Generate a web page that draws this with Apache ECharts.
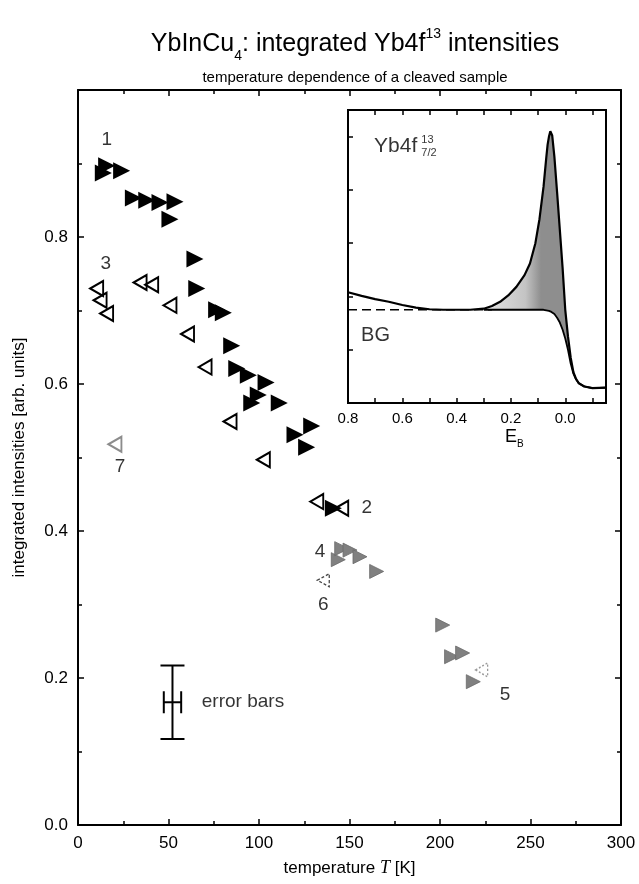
<!DOCTYPE html>
<html>
<head>
<meta charset="utf-8">
<title>YbInCu4 integrated Yb4f13 intensities</title>
<script src="https://cdn.jsdelivr.net/npm/echarts@6/dist/echarts.min.js"></script>
<style>
  html, body { margin: 0; padding: 0; background: #fff; }
  #chart { width: 639px; height: 884px; }
</style>
</head>
<body>
<div id="chart"></div>
<script>
// main plot: temperature [K] vs integrated intensity
const run1T = [14.0, 15.8, 24.1, 30.6, 38.0, 45.3, 53.6, 50.8, 64.6, 65.6, 76.6, 80.3, 84.9, 87.7, 94.1, 103.9, 99.6, 96.0, 111.2, 119.9, 129.1, 126.3, 141.1]
const run1V = [0.887, 0.897, 0.890, 0.853, 0.850, 0.847, 0.848, 0.824, 0.770, 0.730, 0.701, 0.697, 0.652, 0.621, 0.612, 0.602, 0.585, 0.574, 0.574, 0.531, 0.543, 0.514, 0.431]
const run3T = [10.3, 12.2, 15.8, 34.3, 40.7, 50.8, 60.5, 70.2, 84.0, 102.4, 131.9, 145.7]
const run3V = [0.730, 0.714, 0.696, 0.738, 0.735, 0.707, 0.668, 0.623, 0.549, 0.497, 0.440, 0.431]
const run4T = [143.8, 145.7, 150.3, 155.8, 165.0, 201.5, 206.4, 212.5, 218.4]
const run4V = [0.361, 0.376, 0.374, 0.365, 0.345, 0.272, 0.229, 0.234, 0.195]
const run5T = [223.0]
const run5V = [0.211]
const run6T = [135.5]
const run6V = [0.333]
const run7T = [20.4]
const run7V = [0.518]

const noteText = ['1', '2', '3', '4', '5', '6', '7']
const noteT = [15.9, 159.5, 15.3, 133.7, 235.9, 135.5, 23.2]
const noteV = [0.932, 0.431, 0.763, 0.372, 0.177, 0.299, 0.487]

// typical error bar (T, value, dT, dValue)
const errBar = [52.2, 0.167, 4.8, 0.05]

// inset: Yb4f 7/2 spectrum vs binding energy E_B
const specE = [0.8, 0.75, 0.7, 0.65, 0.6, 0.55, 0.5, 0.45, 0.4, 0.35, 0.3, 0.27, 0.24, 0.21, 0.18, 0.15, 0.13, 0.11, 0.095, 0.08, 0.07, 0.065, 0.06, 0.055, 0.051, 0.048, 0.04, 0.03, 0.02, 0.01, 0.0, -0.01, -0.02, -0.03, -0.04, -0.05, -0.07, -0.1, -0.15]
const specI = [2.08, 2.01, 1.95, 1.90, 1.84, 1.79, 1.76, 1.75, 1.75, 1.75, 1.77, 1.82, 1.90, 2.02, 2.18, 2.40, 2.62, 3.00, 3.45, 4.06, 4.60, 4.85, 5.00, 5.10, 5.08, 5.02, 4.62, 3.95, 3.25, 2.55, 1.75, 1.25, 0.85, 0.58, 0.45, 0.37, 0.31, 0.28, 0.29]
const bgI = [1.75, 1.75, 1.75, 1.75, 1.75, 1.75, 1.75, 1.75, 1.75, 1.75, 1.75, 1.75, 1.75, 1.75, 1.75, 1.75, 1.75, 1.75, 1.75, 1.75, 1.74, 1.74, 1.73, 1.72, 1.71, 1.70, 1.67, 1.60, 1.51, 1.38, 1.21, 1.00, 0.74, 0.55, 0.44, 0.37, 0.31, 0.28, 0.29]

const FONT = 'Liberation Sans, Arial, Helvetica, sans-serif'

function pairs (xs, ys) {
  return xs.map((x, i) => [x, ys[i]])
}

// inset x axis runs as -E so that 0.8 sits on the left
const bgDashed = []
const bgSolid = []
specE.forEach((e, i) => {
  bgDashed.push(e >= 0.27 ? [-e, bgI[i]] : [-e, null])
  bgSolid.push(e <= 0.3 ? [-e, bgI[i]] : [-e, null])
})

const chart = echarts.init(document.getElementById('chart'))

const tickAxis = {
  axisLine: { show: true, onZero: false, lineStyle: { color: '#000', width: 2 } },
  axisTick: { show: true, inside: true, length: 6, lineStyle: { color: '#000', width: 1.5 } },
  minorTick: { show: true, splitNumber: 2, length: 4, lineStyle: { color: '#000', width: 1.5 } },
  splitLine: { show: false },
  minorSplitLine: { show: false }
}

function noLabels (o) {
  return Object.assign({}, tickAxis, { axisLabel: { show: false } }, o)
}

const insetTick = { show: true, inside: true, length: 5, lineStyle: { color: '#000', width: 1.5 } }

const option = {
  backgroundColor: '#fff',
  animation: false,
  title: [
    {
      text: '{a|YbInCu}{sub|4}{a|: integrated Yb4f}{sup|13}{a| intensities}',
      left: 350,
      top: 20,
      textAlign: 'center',
      textStyle: {
        rich: {
          a: { fontFamily: FONT, fontSize: 25, fontWeight: 'normal', color: '#000', lineHeight: 32, verticalAlign: 'bottom' },
          sub: { fontFamily: FONT, fontSize: 14, fontWeight: 'normal', color: '#000', lineHeight: 32, verticalAlign: 'bottom', padding: [0, 0, -6, 0] },
          sup: { fontFamily: FONT, fontSize: 14, fontWeight: 'normal', color: '#000', lineHeight: 32, verticalAlign: 'top', padding: [2, 0, 0, 0] }
        }
      }
    },
    {
      text: 'temperature dependence of a cleaved sample',
      left: 350,
      top: 65,
      textAlign: 'center',
      textStyle: { fontFamily: FONT, fontSize: 15, fontWeight: 'normal', color: '#000' }
    }
  ],
  grid: [
    { left: 78, top: 90, width: 543, height: 735, show: false },
    { left: 348, top: 110, width: 258, height: 293, show: true, backgroundColor: '#fff', borderColor: '#000', borderWidth: 2 }
  ],
  xAxis: [
    Object.assign({}, tickAxis, {
      type: 'value', gridIndex: 0, position: 'bottom', min: 0, max: 300, interval: 50,
      axisLabel: { color: '#000', fontFamily: FONT, fontSize: 17, margin: 10 },
      name: '{a|temperature }{i|T}{a| [K]}',
      nameLocation: 'middle',
      nameGap: 34,
      nameTextStyle: {
        rich: {
          a: { fontFamily: FONT, fontSize: 17, color: '#000' },
          i: { fontFamily: 'Liberation Serif, Times New Roman, serif', fontStyle: 'italic', fontSize: 18, color: '#000' }
        }
      }
    }),
    noLabels({ type: 'value', gridIndex: 0, position: 'top', min: 0, max: 300, interval: 50 }),
    Object.assign({}, tickAxis, {
      type: 'value', gridIndex: 1, position: 'bottom', min: -0.8, max: 0.15, interval: 0.1,
      minorTick: { show: false },
      axisTick: insetTick,
      axisLabel: {
        color: '#000', fontFamily: FONT, fontSize: 15, margin: 8, showMaxLabel: false,
        formatter: v => (Math.round(v * 10) % 2 === 0 ? (-v).toFixed(1) : '')
      }
    }),
    noLabels({
      type: 'value', gridIndex: 1, position: 'top', min: -0.8, max: 0.15, interval: 0.1,
      minorTick: { show: false },
      axisTick: insetTick
    })
  ],
  yAxis: [
    Object.assign({}, tickAxis, {
      type: 'value', gridIndex: 0, position: 'left', min: 0, max: 1, interval: 0.2,
      axisLabel: { color: '#000', fontFamily: FONT, fontSize: 17, margin: 10, showMaxLabel: false, formatter: v => v.toFixed(1) },
      name: 'integrated intensities [arb. units]',
      nameLocation: 'middle',
      nameGap: 50,
      nameTextStyle: { fontFamily: FONT, fontSize: 17, color: '#000' }
    }),
    noLabels({ type: 'value', gridIndex: 0, position: 'right', min: 0, max: 1, interval: 0.2 }),
    noLabels({
      type: 'value', gridIndex: 1, position: 'left', min: 0, max: 5.5, interval: 1,
      minorTick: { show: false },
      axisTick: insetTick
    })
  ],
  graphic: [
    {
      type: 'text',
      left: 505,
      top: 428,
      style: {
        text: '{e|E}{s|B}',
        rich: {
          e: { fontFamily: FONT, fontSize: 18, color: '#000', lineHeight: 22, verticalAlign: 'bottom' },
          s: { fontFamily: FONT, fontSize: 10, color: '#000', lineHeight: 22, verticalAlign: 'bottom', padding: [0, 0, -3, 0] }
        }
      }
    }
  ],
  series: [
    // inset: shaded 4f weight between spectrum and background
    {
      type: 'custom', xAxisIndex: 2, yAxisIndex: 2, data: [[0]], silent: true, z: 1,
      renderItem: function (params, api) {
        const idx = specE.map((e, i) => i).filter(i => specE[i] <= 0.3 && specE[i] >= -0.04)
        const pts = idx.map(i => api.coord([-specE[i], specI[i]]))
        idx.slice().reverse().forEach(i => pts.push(api.coord([-specE[i], bgI[i]])))
        return {
          type: 'polygon',
          shape: { points: pts },
          style: {
            fill: new echarts.graphic.LinearGradient(0, 0, 1, 0, [
              { offset: 0, color: '#e4e4e4' },
              { offset: 0.45, color: '#c4c4c4' },
              { offset: 0.62, color: '#8e8e8e' },
              { offset: 1, color: '#8e8e8e' }
            ])
          }
        }
      }
    },
    {
      type: 'line', xAxisIndex: 2, yAxisIndex: 2, data: pairs(specE.map(e => -e), specI),
      showSymbol: false, lineStyle: { color: '#000', width: 2.2 }, z: 3
    },
    {
      type: 'line', xAxisIndex: 2, yAxisIndex: 2, data: bgDashed,
      showSymbol: false, lineStyle: { color: '#000', width: 1.6, type: [9, 5] }, z: 3
    },
    {
      type: 'line', xAxisIndex: 2, yAxisIndex: 2, data: bgSolid,
      showSymbol: false, lineStyle: { color: '#000', width: 1.8 }, z: 3
    },
    {
      type: 'scatter', xAxisIndex: 2, yAxisIndex: 2, symbolSize: 0, silent: true, z: 4,
      data: [
        { value: [-0.704, 4.82], label: { formatter: 'Yb4f', fontSize: 21 } },
        { value: [-0.53, 4.93], label: { formatter: '13', fontSize: 11 } },
        { value: [-0.53, 4.70], label: { formatter: '7/2', fontSize: 11 } },
        { value: [-0.752, 1.27], label: { formatter: 'BG', fontSize: 20 } }
      ],
      label: { show: true, position: 'inside', align: 'left', verticalAlign: 'middle', color: '#000', fontFamily: FONT }
    },
    // main plot runs
    {
      type: 'scatter', xAxisIndex: 0, yAxisIndex: 0, data: pairs(run3T, run3V),
      symbol: 'triangle', symbolRotate: 90, symbolSize: [15, 13],
      itemStyle: { opacity: 1, color: 'rgba(0,0,0,0)', borderColor: '#000', borderWidth: 2 }
    },
    {
      type: 'scatter', xAxisIndex: 0, yAxisIndex: 0, data: pairs(run1T, run1V),
      symbol: 'triangle', symbolRotate: -90, symbolSize: 17,
      itemStyle: { opacity: 1, color: '#000' }
    },
    {
      type: 'scatter', xAxisIndex: 0, yAxisIndex: 0, data: pairs(run4T, run4V),
      symbol: 'triangle', symbolRotate: -90, symbolSize: 14,
      itemStyle: { opacity: 1, color: '#808080', borderColor: '#6a6a6a', borderWidth: 0.8 }
    },
    {
      type: 'scatter', xAxisIndex: 0, yAxisIndex: 0, data: pairs(run5T, run5V),
      symbol: 'triangle', symbolRotate: 90, symbolSize: [14, 12],
      itemStyle: { opacity: 1, color: 'rgba(0,0,0,0)', borderColor: '#9a9a9a', borderWidth: 1.4, borderType: [2, 2] }
    },
    {
      type: 'scatter', xAxisIndex: 0, yAxisIndex: 0, data: pairs(run6T, run6V),
      symbol: 'triangle', symbolRotate: 90, symbolSize: [13, 12],
      itemStyle: { opacity: 1, color: 'rgba(0,0,0,0)', borderColor: '#444', borderWidth: 1.3, borderType: [3, 2] }
    },
    {
      type: 'scatter', xAxisIndex: 0, yAxisIndex: 0, data: pairs(run7T, run7V),
      symbol: 'triangle', symbolRotate: 90, symbolSize: [15, 13],
      itemStyle: { opacity: 1, color: 'rgba(0,0,0,0)', borderColor: '#8c8c8c', borderWidth: 2 }
    },
    {
      type: 'scatter', xAxisIndex: 0, yAxisIndex: 0, symbolSize: 0, silent: true,
      data: noteText.map((t, i) => [noteT[i], noteV[i], t]),
      label: {
        show: true, position: 'inside', color: '#000', fontFamily: FONT, fontSize: 19,
        formatter: p => p.value[2]
      }
    },
    {
      type: 'custom', xAxisIndex: 0, yAxisIndex: 0, data: [errBar], silent: true,
      renderItem: function (params, api) {
        const t = api.value(0)
        const v = api.value(1)
        const dt = api.value(2)
        const dv = api.value(3)
        const top = api.coord([t, v + dv])
        const bot = api.coord([t, v - dv])
        const l = api.coord([t - dt, v])
        const r = api.coord([t + dt, v])
        const st = { stroke: '#000', lineWidth: 2 }
        const ln = (x1, y1, x2, y2) => ({ type: 'line', shape: { x1, y1, x2, y2 }, style: st })
        return {
          type: 'group',
          children: [
            ln(top[0], top[1], bot[0], bot[1]),
            ln(top[0] - 12, top[1], top[0] + 12, top[1]),
            ln(bot[0] - 12, bot[1], bot[0] + 12, bot[1]),
            ln(l[0], l[1], r[0], r[1]),
            ln(l[0], l[1] - 11, l[0], l[1] + 11),
            ln(r[0], r[1] - 11, r[0], r[1] + 11)
          ]
        }
      }
    },
    {
      type: 'scatter', xAxisIndex: 0, yAxisIndex: 0, symbolSize: 0, silent: true,
      data: [[68.4, 0.167]],
      label: { show: true, position: 'inside', align: 'left', color: '#000', fontFamily: FONT, fontSize: 19, formatter: 'error bars' }
    }
  ]
}

chart.setOption(option)
window.addEventListener('resize', () => chart.resize())
</script>
</body>
</html>
